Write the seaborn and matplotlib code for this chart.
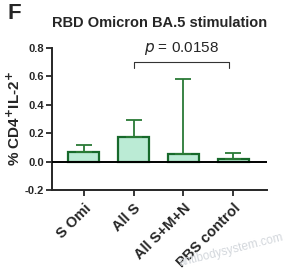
import numpy as np
import pandas as pd
import matplotlib
matplotlib.use("Agg")
import matplotlib.pyplot as plt
import seaborn as sns

# values
groups = ["S Omi", "All S", "All S+M+N", "PBS control"]
means = [0.065, 0.175, 0.055, 0.015]
upper = [0.12, 0.295, 0.58, 0.06]
p_text = "$p$ = 0.0158"
p_pair = (1, 3)

sns.set_style("ticks")
plt.rcParams['font.family'] = ['Liberation Sans', 'DejaVu Sans']

df = pd.DataFrame({"group": groups, "value": means})

fig = plt.figure(figsize=(2.89, 2.73), dpi=100)
ax = fig.add_axes([0.18, 0.304, 0.744, 0.52])

sns.barplot(data=df, x="group", y="value", ax=ax, width=0.62,
            color="#b3f3d6", edgecolor="#17692b", linewidth=1.6, errorbar=None)

# upper-only error bars
x = np.arange(len(groups))
err = np.array(upper) - np.array(means)
ax.errorbar(x, means, yerr=[np.zeros(len(x)), err], fmt="none",
            ecolor="#2a7a36", elinewidth=1.3, capsize=5.5, capthick=1.3)

ax.axhline(0, color="black", lw=1.4, zorder=5)

ax.set_ylim(-0.2, 0.8)
ax.set_xlim(-0.64, 3.68)
ax.set_yticks([-0.2, 0.0, 0.2, 0.4, 0.6, 0.8])
ax.set_yticklabels(["-0.2", "0.0", "0.2", "0.4", "0.6", "0.8"],
                   fontsize=8, fontweight="bold")
ax.set_xticks(x)
ax.set_xticklabels(groups, rotation=45, ha="right", rotation_mode="anchor",
                   fontsize=10.5, fontweight="bold")
ax.tick_params(axis="both", width=1.3, length=4, pad=2)
ax.tick_params(axis="x", pad=4)
ax.set_xlabel("")
ax.set_ylabel("% CD4$^{\\mathbf{+}}$IL-2$^{\\mathbf{+}}$", fontsize=11,
              fontweight="bold", labelpad=1)
sns.despine(ax=ax)
for s in ["left", "bottom"]:
    ax.spines[s].set_linewidth(1.4)

# significance bracket
x1, x2 = p_pair
yb = 0.705
ax.plot([x1, x1, x2 - 0.08, x2 - 0.08], [0.66, yb, yb, 0.66],
        color="#333333", lw=0.8, clip_on=False)
ax.text((x1 + x2 - 0.08) / 2, 0.74, p_text, ha="center", va="bottom",
        fontsize=11)

ax.set_title("RBD Omicron BA.5 stimulation", fontsize=10.5, fontweight="bold",
             pad=15)
fig.text(0.025, 0.99, "F", fontsize=16, fontweight="bold", va="top")

# faint watermark
fig.text(0.8, 0.015, "antibodysystem.com", fontsize=8.5, color="#d3d7dc",
         rotation=14, ha="center", va="bottom")

fig.savefig("out.png", dpi=100)
